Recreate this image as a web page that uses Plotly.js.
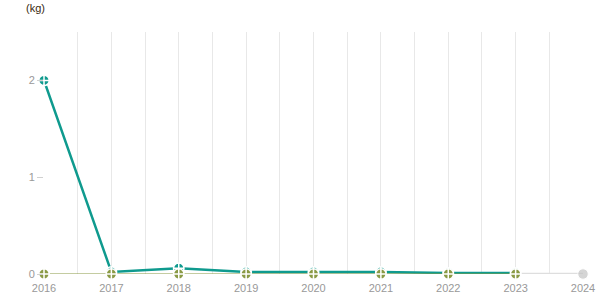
<!DOCTYPE html>
<html>
<head>
<meta charset="utf-8">
<script src="https://cdn.plot.ly/plotly-3.0.1.min.js"></script>
<style>
  html, body { margin: 0; padding: 0; background: #fff; }
  #chart { width: 615px; height: 305px; }
</style>
</head>
<body>
<div id="chart"></div>
<script>
// Yearly quantities in kg
const years = [2016, 2017, 2018, 2019, 2020, 2021, 2022, 2023];
const seriesA = [2, 0.02, 0.06, 0.02, 0.02, 0.02, 0.01, 0.01];
const seriesB = [0, 0, 0, 0, 0, 0, 0, 0];
// Year not yet reported
const pendingYears = [2023, 2024];
const pendingValues = [0, 0];
const tickYears = [2016, 2017, 2018, 2019, 2020, 2021, 2022, 2023, 2024];
const tickLabels = tickYears.map(String);

const TEAL = '#0f9a8e';
const OLIVE = '#8a9a45';
const GREY = '#c4c4c4';

const markerStyle = (color) => ({
  symbol: 'circle-cross',
  size: 10.5,
  color: color,
  line: { color: '#ffffff', width: 1.5 }
});

const traces = [
  {
    x: pendingYears, y: pendingValues, type: 'scatter', mode: 'lines+markers',
    line: { color: '#dedede', width: 2.5 },
    marker: { size: [0, 10.5], color: GREY, symbol: 'circle', line: { color: '#ffffff', width: 1 } },
    cliponaxis: false, hoverinfo: 'skip'
  },
  {
    x: years, y: seriesA, type: 'scatter', mode: 'lines+markers',
    line: { color: TEAL, width: 2.5 },
    marker: markerStyle(TEAL),
    cliponaxis: false
  },
  {
    x: years, y: seriesB, type: 'scatter', mode: 'lines+markers',
    line: { color: OLIVE, width: 1.2 },
    marker: markerStyle(OLIVE),
    cliponaxis: false
  }
];

const layout = {
  width: 615, height: 305,
  margin: { l: 44, r: 32, t: 32, b: 31 },
  paper_bgcolor: '#ffffff',
  plot_bgcolor: '#ffffff',
  showlegend: false,
  font: { family: 'Arial, "Liberation Sans", sans-serif', size: 11, color: '#999' },
  xaxis: {
    range: [2016, 2024],
    tickvals: tickYears,
    ticktext: tickLabels,
    showgrid: true,
    gridcolor: '#e8e8e8',
    gridwidth: 1,
    minor: { dtick: 0.5, tick0: 2016, showgrid: true, gridcolor: '#e8e8e8', gridwidth: 1 },
    zeroline: false,
    showline: false,
    ticks: '',
    ticklabelstandoff: 6,
    tickfont: { size: 11, color: '#999' },
    fixedrange: true
  },
  yaxis: {
    range: [0, 2.5],
    tickvals: [0, 1, 2],
    ticktext: ['0', '1', '2'],
    showgrid: false,
    zeroline: false,
    showline: false,
    ticks: 'outside',
    ticklen: 6,
    tickcolor: '#d0d0d0',
    tickfont: { size: 11, color: '#999' },
    fixedrange: true
  },
  annotations: [
    {
      text: '(kg)', xref: 'paper', yref: 'paper',
      x: -9 / 539, y: 1 + 24 / 242, xanchor: 'center', yanchor: 'middle',
      showarrow: false, font: { size: 11, color: '#3a2a10' }
    }
  ]
};

Plotly.newPlot('chart', traces, layout, { displayModeBar: false, staticPlot: true });
</script>
</body>
</html>
